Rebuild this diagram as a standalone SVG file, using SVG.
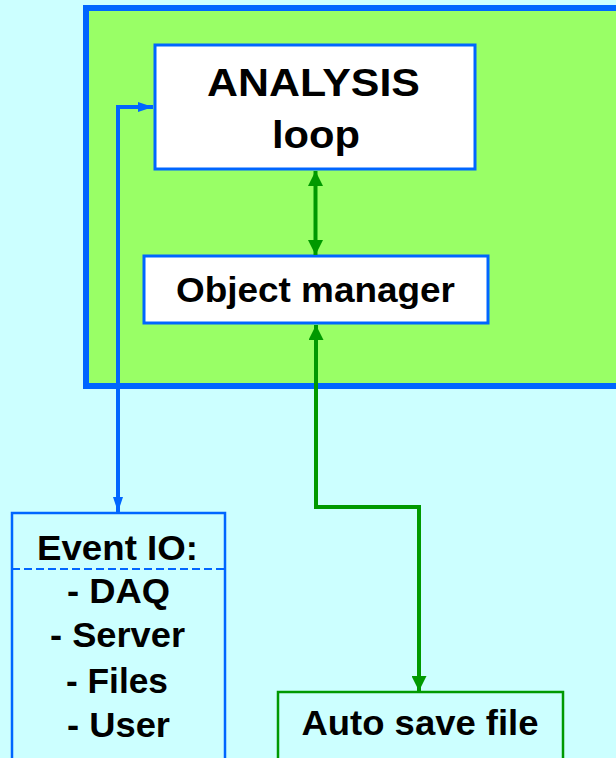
<svg xmlns="http://www.w3.org/2000/svg" width="616" height="758" viewBox="0 0 616 758">
  <style>
    .lbl { font-family: "Liberation Sans", Arial, sans-serif; font-weight: bold; fill: #000; text-anchor: middle; }
    .big { font-size: 38px; }
    .mid { font-size: 35px; }
    .box { fill: #FFFFFF; stroke: #0066FF; stroke-width: 3; }
    .blue { fill: none; stroke: #0066FF; stroke-width: 4; }
    .green { fill: none; stroke: #009900; stroke-width: 4; }
  </style>
  <defs>
    <marker id="arrBlue" viewBox="0 0 15 10" refX="15" refY="5" markerWidth="15" markerHeight="10" markerUnits="userSpaceOnUse" orient="auto-start-reverse">
      <path d="M0,0 L15,5 L0,10 Z" fill="#0066FF"/>
    </marker>
    <marker id="arrGreen" viewBox="0 0 15 15" refX="15" refY="7.5" markerWidth="15" markerHeight="15" markerUnits="userSpaceOnUse" orient="auto-start-reverse">
      <path d="M0,0 L15,7.5 L0,15 Z" fill="#009900"/>
    </marker>
  </defs>

  <!-- background -->
  <rect x="0" y="0" width="616" height="758" fill="#CCFFFF"/>

  <!-- analysis framework area -->
  <g id="framework">
    <rect x="86" y="8" width="540" height="378" fill="#99FF66" stroke="#0066FF" stroke-width="6"/>
  </g>

  <g id="analysis-loop">
    <rect class="box" x="155" y="45" width="320" height="124"/>
    <text class="lbl big" x="313.5" y="96" textLength="213" lengthAdjust="spacingAndGlyphs">ANALYSIS</text>
    <text class="lbl big" x="316" y="148" textLength="88" lengthAdjust="spacingAndGlyphs">loop</text>
  </g>

  <g id="object-manager">
    <rect class="box" x="144" y="256" width="344" height="67"/>
    <text class="lbl mid" x="315.5" y="302" textLength="279" lengthAdjust="spacingAndGlyphs">Object manager</text>
  </g>

  <g id="event-io">
    <rect x="12" y="513" width="213" height="260" fill="none" stroke="#0066FF" stroke-width="2.5"/>
    <line x1="12" y1="569" x2="227" y2="569" stroke="#0066FF" stroke-width="2" stroke-dasharray="8 4"/>
    <text class="lbl mid" x="117.5" y="560" textLength="161" lengthAdjust="spacingAndGlyphs">Event IO:</text>
    <text class="lbl mid" x="118.5" y="603" textLength="103" lengthAdjust="spacingAndGlyphs">- DAQ</text>
    <text class="lbl mid" x="117.5" y="647" textLength="135" lengthAdjust="spacingAndGlyphs">- Server</text>
    <text class="lbl mid" x="117" y="693" textLength="102" lengthAdjust="spacingAndGlyphs">- Files</text>
    <text class="lbl mid" x="118.5" y="737" textLength="103" lengthAdjust="spacingAndGlyphs">- User</text>
  </g>

  <g id="auto-save-file">
    <rect x="278" y="692" width="285" height="80" fill="none" stroke="#009900" stroke-width="2.5"/>
    <text class="lbl mid" x="420" y="735" textLength="237" lengthAdjust="spacingAndGlyphs">Auto save file</text>
  </g>

  <!-- connectors -->
  <g id="connectors">
    <polyline class="blue" points="153,107 118,107 118,512" marker-start="url(#arrBlue)" marker-end="url(#arrBlue)"/>
    <line class="green" x1="315.5" y1="171" x2="315.5" y2="255" marker-start="url(#arrGreen)" marker-end="url(#arrGreen)"/>
    <polyline class="green" points="316,325 316,507 419,507 419,691" marker-start="url(#arrGreen)" marker-end="url(#arrGreen)"/>
  </g>
</svg>
